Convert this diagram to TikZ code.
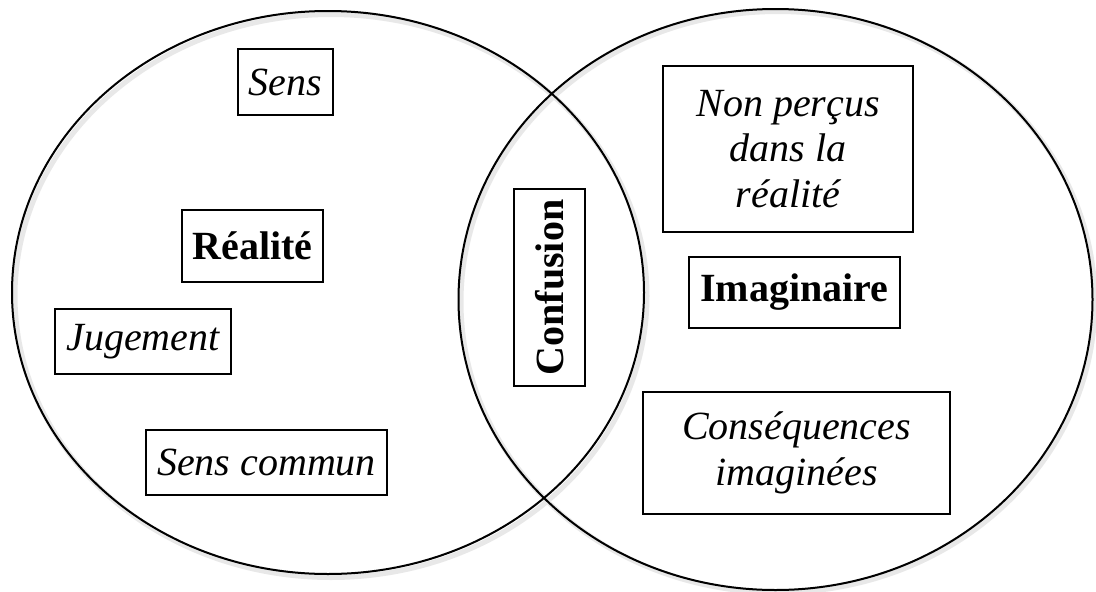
\documentclass[tikz,border=0pt]{standalone}
\usepackage{fontspec}
\setmainfont{Liberation Serif}
\begin{document}
\begin{tikzpicture}[x=1pt,y=-1pt,
    ens/.style={line width=2pt},
    halo/.style={black!9,line width=5pt},
    cadre/.style={draw,line width=1.3pt,fill=white,inner sep=0pt,align=center},
    titre/.style={cadre,font=\fontsize{40}{45.5}\selectfont\bfseries},
    terme/.style={cadre,font=\fontsize{40}{45.5}\selectfont\itshape}]
  \useasboundingbox[fill=white] (0,0) rectangle (1096,592);
  % les deux ensembles, avec une ombre legere
  \draw[halo] (331,296) ellipse [x radius=316, y radius=281.5];
  \draw[halo] (778,302) ellipse [x radius=317, y radius=290.5];
  \draw[ens] (328,292.5) ellipse [x radius=316, y radius=281.5];
  \draw[ens] (775.5,299.5) ellipse [x radius=317, y radius=290.5];
  % cote realite
  \node[terme,minimum width=95,minimum height=66] (sens) at (285.5,82) {Sens};
  \node[titre,minimum width=141,minimum height=72] (realite) at (252.5,246) {Réalité};
  \node[terme,minimum width=176,minimum height=65] (jugement) at (143,341.5) {Jugement};
  \node[terme,minimum width=241,minimum height=65] (senscommun) at (266.5,462.5) {Sens commun};
  % intersection
  \node[titre,rotate=90,minimum width=197,minimum height=71] (confusion) at (549.5,287.5) {Confusion};
  % cote imaginaire
  \node[terme,minimum width=250,minimum height=166] (nonpercus) at (788,149)
    {Non perçus\\dans la\\réalité};
  \node[titre,minimum width=211,minimum height=71] (imaginaire) at (794.5,292.5) {Imaginaire};
  \node[terme,minimum width=307,minimum height=122] (consequences) at (796.5,453)
    {Conséquences\\imaginées};
\end{tikzpicture}
\end{document}
